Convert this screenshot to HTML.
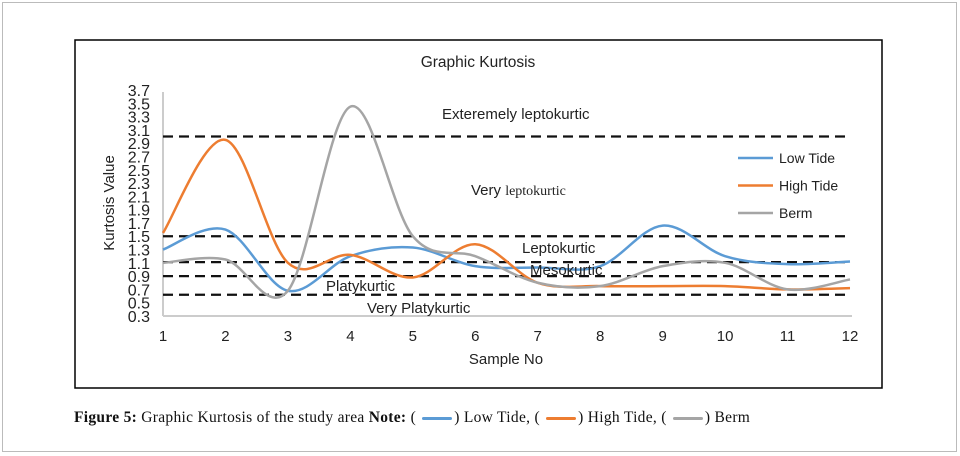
<!DOCTYPE html>
<html><head><meta charset="utf-8"><style>
body{margin:0;background:#fff;width:960px;height:456px;overflow:hidden;font-family:"Liberation Sans",sans-serif}
#outer{position:absolute;left:2px;top:2px;width:953px;height:448px;border:1px solid #bbb}
#cap{position:absolute;left:74px;top:409px;font-family:"Liberation Serif",serif;font-size:15.5px;letter-spacing:0.3px;color:#111;white-space:nowrap}
.sw{display:inline-block;width:30px;height:3px;vertical-align:middle;margin:0 2px;border-radius:2px}
</style></head><body>
<div id="outer"></div>
<svg id="chart" width="960" height="456" style="position:absolute;left:0;top:0">
<rect x="75" y="40" width="807" height="348" fill="none" stroke="#000" stroke-width="1.5"/>
<text x="478" y="67" text-anchor="middle" font-size="15.5" fill="#222">Graphic Kurtosis</text>
<text x="0" y="0" transform="translate(114,203) rotate(-90)" text-anchor="middle" font-size="15" fill="#222">Kurtosis Value</text>
<text x="506" y="364" text-anchor="middle" font-size="15" fill="#222">Sample No</text>
<g id="grid"></g><g id="ticks"></g><g id="series"></g>
<g font-size="15" fill="#222">
<text x="442" y="119">Exteremely leptokurtic</text>
<text x="471" y="195">Very <tspan font-family="Liberation Serif" font-size="14">leptokurtic</tspan></text>
<text x="522" y="253">Leptokurtic</text>
<text x="530" y="275">Mesokurtic</text>
<text x="326" y="291">Platykurtic</text>
<text x="367" y="313">Very Platykurtic</text>
</g>
<g id="legend"></g>
</svg>
<div id="cap"><b>Figure 5:</b> Graphic Kurtosis of the study area <b>Note:</b> ( <span class="sw" style="background:#5b9bd5"></span>) Low Tide, ( <span class="sw" style="background:#ed7d31"></span>) High Tide, ( <span class="sw" style="background:#a5a5a5"></span>) Berm</div>
<script>
const samples=[1,2,3,4,5,6,7,8,9,10,11,12];
const yTicks=[0.3,0.5,0.7,0.9,1.1,1.3,1.5,1.7,1.9,2.1,2.3,2.5,2.7,2.9,3.1,3.3,3.5,3.7];
const thresholds=[3.0,1.5,1.11,0.9,0.62];
const lowTide=[1.3,1.6,0.68,1.2,1.33,1.05,1.03,1.05,1.66,1.2,1.08,1.12];
const highTide=[1.55,2.95,1.1,1.22,0.88,1.38,0.8,0.75,0.75,0.75,0.7,0.72];
const berm=[1.1,1.15,0.68,3.45,1.5,1.2,0.8,0.75,1.05,1.1,0.7,0.85];
const seriesNames=["Low Tide","High Tide","Berm"];
const NS="http://www.w3.org/2000/svg";
const xs=v=>163+(v-1)*(850-163)/11;
const ys=v=>316-(v-0.3)*(316-90)/3.4;
function mk(t,a,p){const e=document.createElementNS(NS,t);for(const k in a)e.setAttribute(k,a[k]);p.appendChild(e);return e;}
const grid=document.getElementById('grid'),ticks=document.getElementById('ticks'),ser=document.getElementById('series'),leg=document.getElementById('legend');
let ax=mk('line',{x1:163,y1:92,x2:163,y2:316,stroke:'#ccc','stroke-width':2},grid);

let bx=mk('line',{x1:163,y1:316,x2:852,y2:316,stroke:'#ccc','stroke-width':2},grid);

thresholds.forEach(t=>{const l=mk('line',{x1:163,x2:848,y1:ys(t),y2:ys(t),stroke:'#111','stroke-width':2.2,'stroke-dasharray':'10,6'},grid);
});
yTicks.forEach(t=>{const e=mk('text',{x:150,y:ys(t)+6,'text-anchor':'end','font-size':16,fill:'#222'},ticks);e.textContent=t.toFixed(1);
});
samples.forEach(s=>{const e=mk('text',{x:xs(s),y:341,'text-anchor':'middle','font-size':15,fill:'#222'},ticks);e.textContent=s;
});
function path(vals){const p=vals.map((v,i)=>[xs(samples[i]),ys(v)]);let d='M'+p[0];
for(let i=0;i<p.length-1;i++){const p0=p[i-1]||p[i],p1=p[i],p2=p[i+1],p3=p[i+2]||p2;
d+=' C'+(p1[0]+(p2[0]-p0[0])/6)+','+(p1[1]+(p2[1]-p0[1])/6)+' '+(p2[0]-(p3[0]-p1[0])/6)+','+(p2[1]-(p3[1]-p1[1])/6)+' '+p2;}return d;}
const cols=['#5b9bd5','#ed7d31','#a5a5a5'];
[lowTide,highTide,berm].forEach((s,i)=>{const e=mk('path',{d:path(s),fill:'none',stroke:cols[i],'stroke-width':2.5},ser);

const g=mk('g',{},leg);
const y=158+i*27.5;mk('line',{x1:738,x2:773,y1:y,y2:y,stroke:cols[i],'stroke-width':2.5},g);
const t=mk('text',{x:779,y:y+5,'font-size':14,fill:'#222'},g);t.textContent=seriesNames[i];});
</script>
</body></html>
